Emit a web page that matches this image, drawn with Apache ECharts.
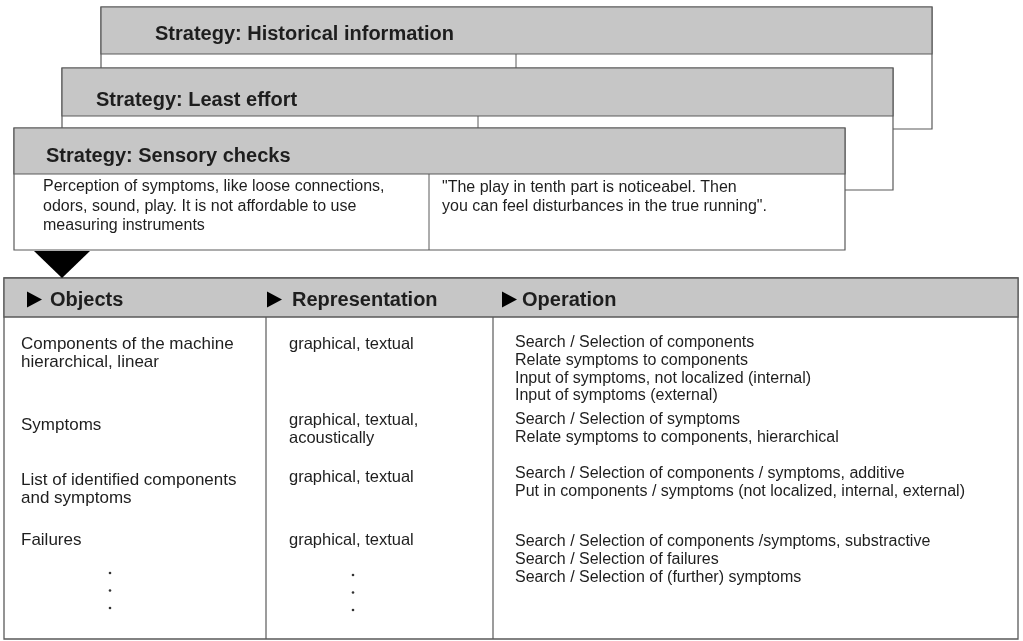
<!DOCTYPE html>
<html>
<head>
<meta charset="utf-8">
<script src="https://cdn.jsdelivr.net/npm/echarts@6/dist/echarts.min.js"></script>
<style>
html,body{margin:0;padding:0;background:#fff;}
#c{width:1023px;height:641px;}
</style>
</head>
<body>
<div id="c"></div>
<script>
// ---- content ----
const cardTitles = ['Strategy: Historical information', 'Strategy: Least effort', 'Strategy: Sensory checks'];
const cardLeftText = [[], [], ['Perception of symptoms, like loose connections,', 'odors, sound, play. It is not affordable to use', 'measuring instruments']];
const cardRightText = [[], [], ['"The play in tenth part is noticeabel. Then', 'you can feel disturbances in the true running".']];
const columnHeaders = ['Objects', 'Representation', 'Operation'];
const objects = [
  ['Components of the machine', 'hierarchical, linear'],
  ['Symptoms'],
  ['List of identified components', 'and symptoms'],
  ['Failures']
];
const representations = [
  ['graphical, textual'],
  ['graphical, textual,', 'acoustically'],
  ['graphical, textual'],
  ['graphical, textual']
];
const operations = [
  ['Search / Selection of components', 'Relate symptoms to components', 'Input of symptoms, not localized (internal)', 'Input of symptoms (external)'],
  ['Search / Selection of symptoms', 'Relate symptoms to components, hierarchical'],
  ['Search / Selection of components / symptoms, additive', 'Put in components / symptoms (not localized, internal, external)'],
  ['Search / Selection of components /symptoms, substractive', 'Search / Selection of failures', 'Search / Selection of (further) symptoms']
];
const continuation = ['.', '.', '.'];

// ---- layout ----
const FONT = '"Liberation Sans", Arial, sans-serif';
const BORDER = '#5a5a5a';
const HEAD = '#c6c6c6';
const TXT = '#1e1e1e';
const cardGeom = [
  {x: 101, y: 7, w: 831, hh: 47, h: 122, div: 516, tx: 155, ty: 34},
  {x: 62, y: 68, w: 831, hh: 48, h: 122, div: 478, tx: 96, ty: 100},
  {x: 14, y: 128, w: 831, hh: 46, h: 122, div: 429, tx: 46, ty: 156}
];
const table = {x: 4, y: 278, w: 1014, hh: 39, bottom: 639, divs: [266, 493]};
const colTextX = [21, 289, 515];
const headTriX = [27, 267, 502];
const headTextX = [50, 292, 522];
const rowY = {obj: [344, 425, 480, 540], rep: [344, 420, 477, 540], op: [343, 420, 474, 542]};
const lineH = {obj: 18, rep: 18, op: 17.6};
const dotX = [110, 353];
const dotY0 = [573, 575];
const dotGap = 17.5;

const g = [];
function txt(x, y, s, size, bold) {
  g.push({type: 'text', x: x, y: y, z: 10,
    style: {text: s, x: 0, y: 0, fill: TXT, font: (bold ? 'bold ' : '') + size + 'px ' + FONT, textVerticalAlign: 'middle', textAlign: 'left'}});
}
function line(x1, y1, x2, y2, w) {
  g.push({type: 'line', shape: {x1: x1, y1: y1, x2: x2, y2: y2}, style: {stroke: BORDER, lineWidth: w || 1.2}, z: 5});
}

// strategy cards, back to front
cardTitles.forEach(function (t, i) {
  const c = cardGeom[i];
  const z = i * 3;
  g.push({type: 'rect', shape: {x: c.x, y: c.y, width: c.w, height: c.h}, style: {fill: '#fff', stroke: BORDER, lineWidth: 1.2}, z: z});
  g.push({type: 'rect', shape: {x: c.x, y: c.y, width: c.w, height: c.hh}, style: {fill: HEAD, stroke: BORDER, lineWidth: 1.2}, z: z});
  g.push({type: 'line', shape: {x1: c.div, y1: c.y + c.hh, x2: c.div, y2: c.y + c.h}, style: {stroke: BORDER, lineWidth: 1}, z: z});
  g.push({type: 'text', x: c.tx, y: c.ty, z: z + 1,
    style: {text: t, fill: TXT, font: 'bold 20px ' + FONT, textVerticalAlign: 'middle'}});
  cardLeftText[i].forEach(function (s, k) {
    g.push({type: 'text', x: c.x + 29, y: c.y + c.hh + 13 + k * 19.5, z: z + 1,
      style: {text: s, fill: TXT, font: '16px ' + FONT, textVerticalAlign: 'middle'}});
  });
  cardRightText[i].forEach(function (s, k) {
    g.push({type: 'text', x: c.div + 13, y: c.y + c.hh + 14 + k * 18.5, z: z + 1,
      style: {text: s, fill: TXT, font: '16px ' + FONT, textVerticalAlign: 'middle'}});
  });
});

// arrow down
g.push({type: 'polygon', shape: {points: [[34, 251], [90, 251], [62, 278]]}, style: {fill: '#000'}, z: 20});

// table
g.push({type: 'rect', shape: {x: table.x, y: table.y, width: table.w, height: table.bottom - table.y}, style: {fill: '#fff', stroke: BORDER, lineWidth: 1.3}, z: 1});
g.push({type: 'rect', shape: {x: table.x, y: table.y, width: table.w, height: table.hh}, style: {fill: HEAD, stroke: BORDER, lineWidth: 1.3}, z: 2});
table.divs.forEach(function (d) { line(d, table.y + table.hh, d, table.bottom, 1.2); });
columnHeaders.forEach(function (h, i) {
  const cy = table.y + table.hh / 2 + 2;
  g.push({type: 'polygon', shape: {points: [[headTriX[i], cy - 8], [headTriX[i] + 15, cy], [headTriX[i], cy + 8]]}, style: {fill: '#000'}, z: 10});
  txt(headTextX[i], cy + 1, h, 20, true);
});
objects.forEach(function (lines, r) {
  lines.forEach(function (s, k) { txt(colTextX[0], rowY.obj[r] + k * lineH.obj, s, 17); });
});
representations.forEach(function (lines, r) {
  lines.forEach(function (s, k) { txt(colTextX[1], rowY.rep[r] + k * lineH.rep, s, 16.5); });
});
operations.forEach(function (lines, r) {
  lines.forEach(function (s, k) { txt(colTextX[2], rowY.op[r] + k * lineH.op, s, 16); });
});
dotX.forEach(function (x, c) {
  continuation.forEach(function (d, k) {
    g.push({type: 'circle', shape: {cx: x, cy: dotY0[c] + k * dotGap, r: 1.3}, style: {fill: '#333'}, z: 10});
  });
});

const chart = echarts.init(document.getElementById('c'));
chart.setOption({animation: false, backgroundColor: '#fff', graphic: {elements: g}});
</script>
</body>
</html>
